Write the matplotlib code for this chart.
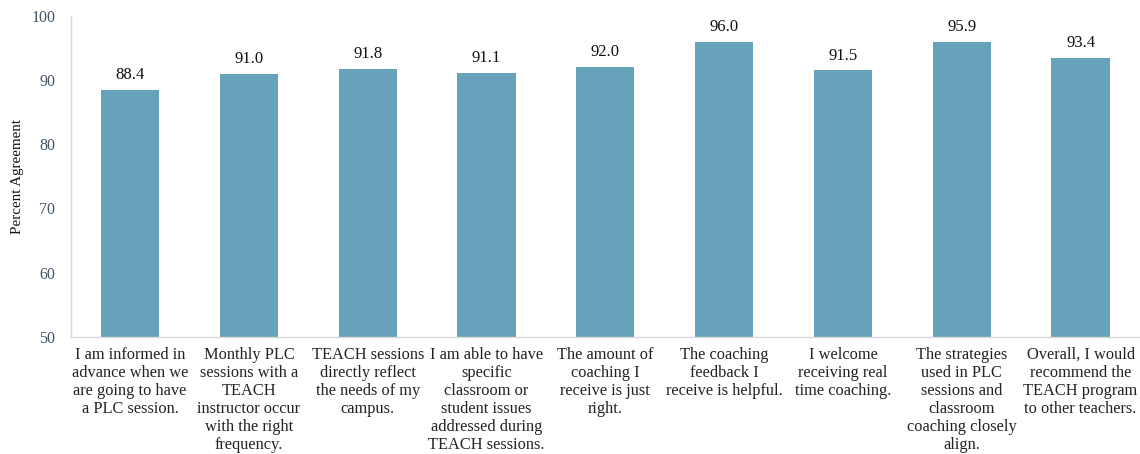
import matplotlib
matplotlib.use("Agg")
import matplotlib.pyplot as plt

categories = [
    "I am informed in\nadvance when we\nare going to have\na PLC session.",
    "Monthly PLC\nsessions with a\nTEACH\ninstructor occur\nwith the right\nfrequency.",
    "TEACH sessions\ndirectly reflect\nthe needs of my\ncampus.",
    "I am able to have\nspecific\nclassroom or\nstudent issues\naddressed during\nTEACH sessions.",
    "The amount of\ncoaching I\nreceive is just\nright.",
    "The coaching\nfeedback I\nreceive is helpful.",
    "I welcome\nreceiving real\ntime coaching.",
    "The strategies\nused in PLC\nsessions and\nclassroom\ncoaching closely\nalign.",
    "Overall, I would\nrecommend the\nTEACH program\nto other teachers.",
]
values = [88.4, 91.0, 91.8, 91.1, 92.0, 96.0, 91.5, 95.9, 93.4]
yticks = [50, 60, 70, 80, 90, 100]

plt.rcParams['font.family'] = ['Liberation Serif', 'DejaVu Serif']

fig = plt.figure(figsize=(11.4, 4.54), dpi=100)
ax = fig.add_axes([0.062, 0.258, 0.938, 0.707])

x = list(range(len(categories)))
bars = ax.bar(x, values, width=0.49, color='#67a2bb', zorder=2)
ax.set_xlim(-0.5, len(categories) - 0.5)
ax.set_ylim(50, 100)
ax.set_yticks(yticks)
ax.set_yticklabels([str(t) for t in yticks], fontsize=11.5, color='#44546a')
ax.set_xticks(x)
ax.set_xticklabels(categories, fontsize=11.8, color='#222222', linespacing=1.17)
ax.tick_params(axis='both', length=0)
ax.tick_params(axis='x', pad=7)
ax.tick_params(axis='y', pad=11)

for s in ['top', 'right']:
    ax.spines[s].set_visible(False)
for s in ['left', 'bottom']:
    ax.spines[s].set_color('#d9d9d9')
    ax.spines[s].set_linewidth(1.0)

for xi, v in zip(x, values):
    ax.annotate(f"{v:.1f}", (xi, v), xytext=(0, 5), textcoords='offset points',
                ha='center', va='bottom', fontsize=12, color='#111111')

ax.set_ylabel("Percent Agreement", fontsize=10.8, color='#111111', labelpad=5)

fig.savefig("out.png", dpi=100)
